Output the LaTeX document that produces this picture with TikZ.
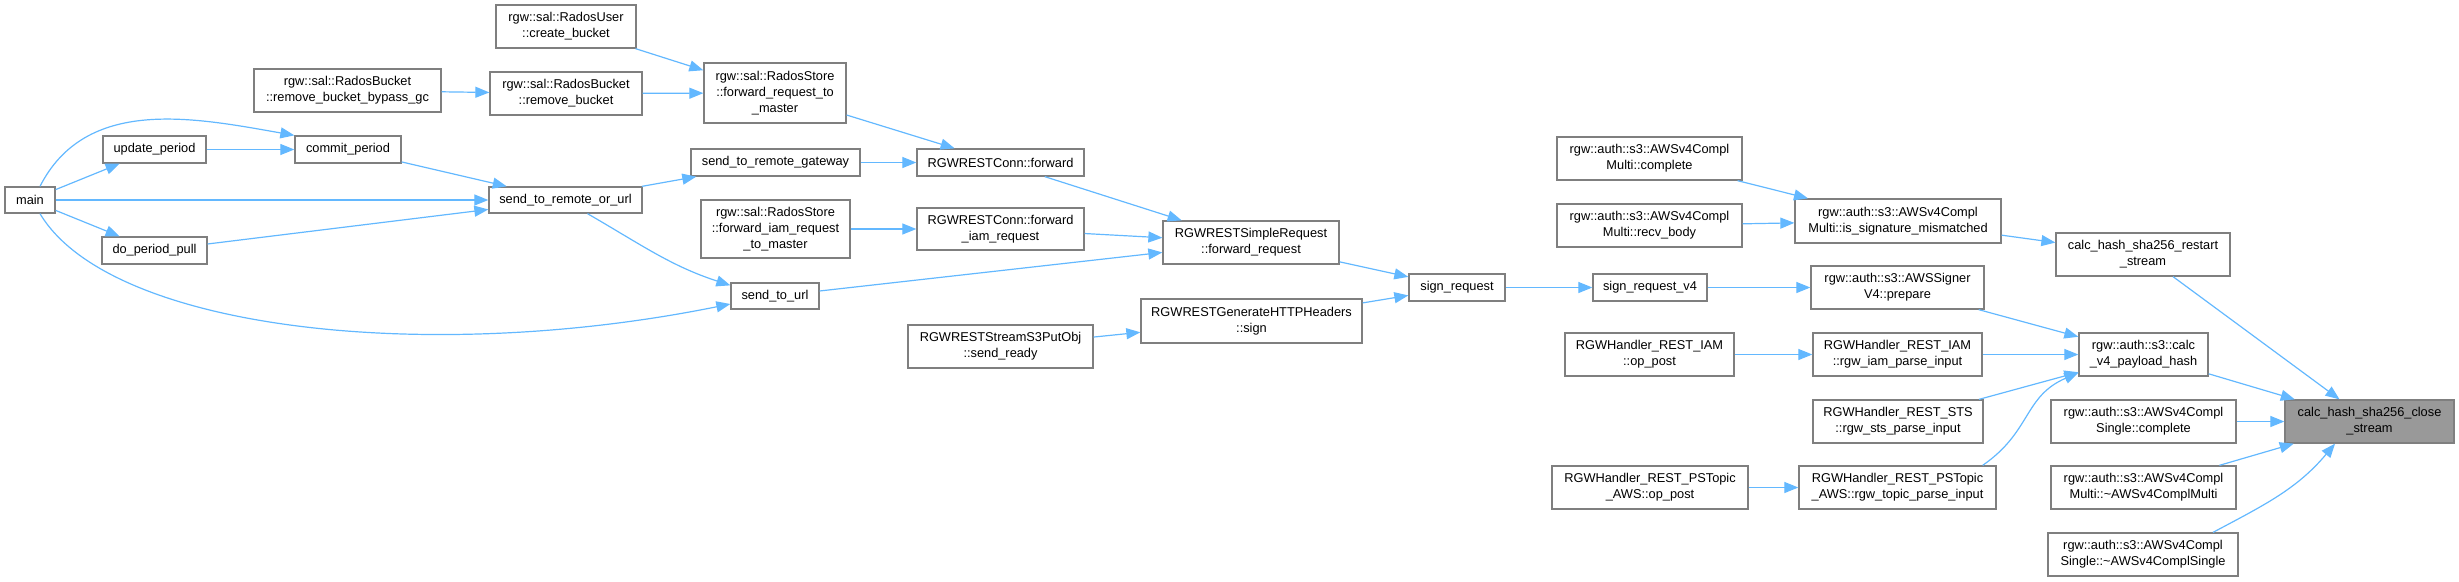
\documentclass[tikz,border=0pt]{standalone}
\usepackage{fontspec}
\setmainfont{Liberation Sans}
\usetikzlibrary{arrows.meta}
\definecolor{edgeblue}{HTML}{63B8FF}
\definecolor{nodeborder}{HTML}{7F7F7F}
\definecolor{hilite}{HTML}{999999}
\tikzset{
  fnode/.style 2 args={draw=nodeborder, line width=1.3pt, fill=white, inner sep=0pt,
    align=center, minimum width=#1pt, minimum height=#2pt},
  call/.style={draw=edgeblue, line width=1.2pt, -{Triangle[length=14pt,width=11pt]}}
}
\begin{document}
\begin{tikzpicture}[x=1pt, y=-1pt, font=\fontsize{12.8}{16}\selectfont]
\useasboundingbox (0,0) rectangle (2459,581);
% nodes
\node[fnode={140}{43}] (create) at (566,26.5) {rgw::sal::RadosUser\\::create\_bucket};
\node[fnode={187}{43}] (rbgc) at (347.5,90.5) {rgw::sal::RadosBucket\\::remove\_bucket\_bypass\_gc};
\node[fnode={152}{43}] (rb) at (566,93.5) {rgw::sal::RadosBucket\\::remove\_bucket};
\node[fnode={103}{27}] (update) at (154.5,149.5) {update\_period};
\node[fnode={106}{27}] (commit) at (348,149.5) {commit\_period};
\node[fnode={50}{26}] (main) at (30,200) {main};
\node[fnode={153}{26}] (srou) at (565.5,200) {send\_to\_remote\_or\_url};
\node[fnode={105}{27}] (dpp) at (154.5,250.5) {do\_period\_pull};
\node[fnode={142}{60}] (frtm) at (775,93) {rgw::sal::RadosStore\\::forward\_request\_to\\\_master};
\node[fnode={169}{27}] (srg) at (775.5,162.5) {send\_to\_remote\_gateway};
\node[fnode={167}{27}] (fwd) at (1000.5,162.5) {RGWRESTConn::forward};
\node[fnode={149}{58}] (fiam) at (775.5,229) {rgw::sal::RadosStore\\::forward\_iam\_request\\\_to\_master};
\node[fnode={167}{42}] (fiamr) at (1000.5,229) {RGWRESTConn::forward\\\_iam\_request};
\node[fnode={176}{43}] (fr) at (1251,242.5) {RGWRESTSimpleRequest\\::forward\_request};
\node[fnode={88}{26}] (stu) at (775,296) {send\_to\_url};
\node[fnode={185}{43}] (sr) at (1000.5,346.5) {RGWRESTStreamS3PutObj\\::send\_ready};
\node[fnode={221}{44}] (sign) at (1251.5,321) {RGWRESTGenerateHTTPHeaders\\::sign};
\node[fnode={96}{27}] (signreq) at (1457,287.5) {sign\_request};
\node[fnode={114}{27}] (signv4) at (1650,287.5) {sign\_request\_v4};
\node[fnode={185}{43}] (mcomplete) at (1649.5,158.5) {rgw::auth::s3::AWSv4Compl\\Multi::complete};
\node[fnode={185}{43}] (recv) at (1649.5,225.5) {rgw::auth::s3::AWSv4Compl\\Multi::recv\_body};
\node[fnode={206}{44}] (ism) at (1898,221) {rgw::auth::s3::AWSv4Compl\\Multi::is\_signature\_mismatched};
\node[fnode={173}{43}] (prep) at (1897.5,287.5) {rgw::auth::s3::AWSSigner\\V4::prepare};
\node[fnode={169}{43}] (iamop) at (1649.5,354.5) {RGWHandler\_REST\_IAM\\::op\_post};
\node[fnode={169}{43}] (iamparse) at (1897.5,354.5) {RGWHandler\_REST\_IAM\\::rgw\_iam\_parse\_input};
\node[fnode={170}{43}] (sts) at (1898,421.5) {RGWHandler\_REST\_STS\\::rgw\_sts\_parse\_input};
\node[fnode={196}{43}] (psop) at (1650,487.5) {RGWHandler\_REST\_PSTopic\\\_AWS::op\_post};
\node[fnode={197}{43}] (pstopic) at (1897.5,487.5) {RGWHandler\_REST\_PSTopic\\\_AWS::rgw\_topic\_parse\_input};
\node[fnode={174}{43}] (restart) at (2143,254.5) {calc\_hash\_sha256\_restart\\\_stream};
\node[fnode={129}{43}] (calcv4) at (2143.5,354.5) {rgw::auth::s3::calc\\\_v4\_payload\_hash};
\node[fnode={169}{43}, fill=hilite] (close) at (2369.5,421.5) {calc\_hash\_sha256\_close\\\_stream};
\node[fnode={185}{43}] (scomplete) at (2143.5,421.5) {rgw::auth::s3::AWSv4Compl\\Single::complete};
\node[fnode={185}{43}] (dmulti) at (2143.5,487.5) {rgw::auth::s3::AWSv4Compl\\Multi::\textasciitilde AWSv4ComplMulti};
\node[fnode={190}{43}] (dsingle) at (2143,554.5) {rgw::auth::s3::AWSv4Compl\\Single::\textasciitilde AWSv4ComplSingle};
% edges
\draw[call] (create) -- (frtm);
\draw[call] (rb) -- (frtm);
\draw[call] (rbgc) -- (rb);
\draw[call] (frtm) -- (fwd);
\draw[call] (srg) -- (fwd);
\draw[call] (fwd) -- (fr);
\draw[call] (fiam) -- (fiamr);
\draw[call] (fiamr) -- (fr);
\draw[call] (stu) -- (fr);
\draw[call] (srou) -- (srg);
\draw[call] ([xshift=22pt]srou.south) to[out=-30,in=162] ([yshift=-3pt]stu.north west);
\draw[call] (main) -- (update);
\draw[call] ([xshift=10pt]main.north) to[out=63,in=170] (commit.north west);
\draw[call] (main) -- (srou);
\draw[call] (main) -- (dpp);
\draw[call] ([xshift=10pt]main.south) .. controls +(70,117) and +(-301,61) .. ([yshift=-8pt]stu.west);
\draw[call] (update) -- (commit);
\draw[call] (commit) -- (srou);
\draw[call] (dpp) -- (srou);
\draw[call] (sr) -- (sign);
\draw[call] (fr) -- (signreq);
\draw[call] (sign) -- (signreq);
\draw[call] (signreq) -- (signv4);
\draw[call] (signv4) -- (prep);
\draw[call] (mcomplete) -- (ism);
\draw[call] (recv) -- (ism);
\draw[call] (ism) -- (restart);
\draw[call] (prep) -- (calcv4);
\draw[call] (iamop) -- (iamparse);
\draw[call] (iamparse) -- (calcv4);
\draw[call] (sts) -- (calcv4);
\draw[call] (psop) -- (pstopic);
\draw[call] ([xshift=-14pt]pstopic.north east) .. controls +(49,-34) and +(-55,24) .. ([yshift=4pt]calcv4.south west);
\draw[call] (restart) -- (close);
\draw[call] (calcv4) -- (close);
\draw[call] (scomplete) -- (close);
\draw[call] (dmulti) -- (close);
\draw[call] ([xshift=70pt]dsingle.north) to[out=28,in=-130] ([xshift=-34.5pt]close.south);
\end{tikzpicture}
\end{document}
